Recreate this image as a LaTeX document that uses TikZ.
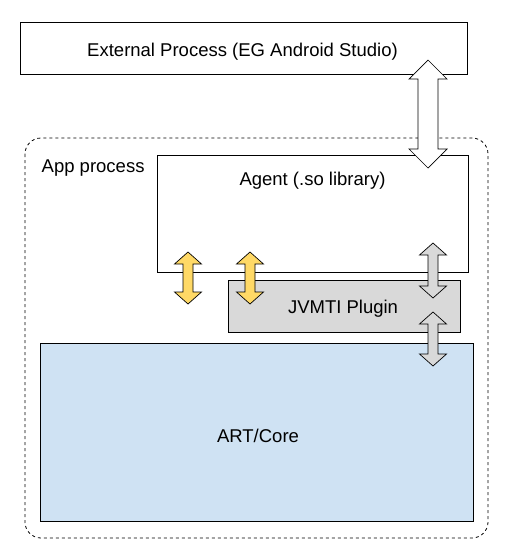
\documentclass[tikz,border=0pt]{standalone}
\usepackage{fontspec}
\setmainfont{Liberation Sans}
\begin{document}
\begin{tikzpicture}[x=1pt,y=-1pt,
  box/.style={draw=black, line width=0.8pt, inner sep=0pt},
  lbl/.style={font=\fontsize{18.5}{22}\selectfont, inner sep=0pt, anchor=base},
  barrow/.style={draw=black, line width=0.7pt, line join=miter}]
\definecolor{artblue}{HTML}{CFE2F3}
\definecolor{plugray}{HTML}{D9D9D9}
\definecolor{arryel}{HTML}{FFD966}
\definecolor{arrgray}{HTML}{D9D9D9}
\useasboundingbox (0,0) rectangle (515,554);
% vertical double block arrow: #1 x, #2 top, #3 bottom, #4 half head width, #5 half shaft width, #6 head length, #7 fill
\newcommand{\vdblarrow}[7]{%
  \draw[barrow, fill=#7] (#1,#2) -- (#1+#4,#2+#6) -- (#1+#5,#2+#6) -- (#1+#5,#3-#6) -- (#1+#4,#3-#6)
    -- (#1,#3) -- (#1-#4,#3-#6) -- (#1-#5,#3-#6) -- (#1-#5,#2+#6) -- (#1-#4,#2+#6) -- cycle;}
% External process
\draw[box] (20,22) rectangle (467,74);
\node[lbl] (ext) at (242.5,56.5) {External Process (EG Android Studio)};
% App process
\draw[black, line width=0.8pt, dashed, rounded corners=16pt] (25,138) rectangle (488,538);
\node[lbl, anchor=base west] (app) at (41.5,172) {App process};
% Agent
\draw[box, fill=white] (157,155) rectangle (468,272);
\node[lbl] (agent) at (312.5,185.5) {Agent (.so library)};
% JVMTI plugin
\draw[box, fill=plugray] (228,280) rectangle (460,332);
\node[lbl] (jvmti) at (343,313.5) {JVMTI Plugin};
% ART/Core
\draw[box, fill=artblue] (40,343) rectangle (473,521);
\node[lbl] (art) at (258,442) {ART/Core};
% arrows
\vdblarrow{428}{60}{168}{19}{10}{19}{white}
\vdblarrow{188}{252}{304}{13.5}{5}{12}{arryel}
\vdblarrow{250}{252}{304}{13.5}{5}{12}{arryel}
\vdblarrow{433}{243}{298}{13.5}{5}{12}{arrgray}
\vdblarrow{433}{312}{366}{13.5}{5}{12}{arrgray}
\end{tikzpicture}
\end{document}
